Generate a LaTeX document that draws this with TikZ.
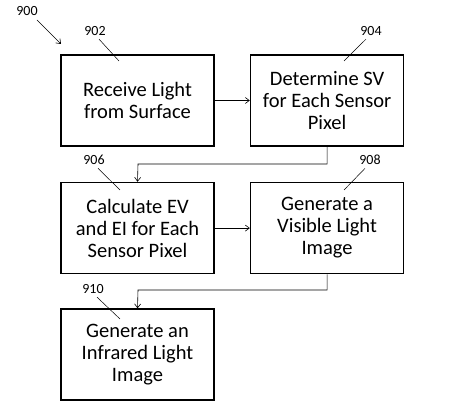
\documentclass[tikz,border=0pt]{standalone}
\usepackage{fontspec}
\setmainfont{Carlito}
\usetikzlibrary{positioning,arrows.meta}
\tikzset{
stepbox/.style={
	  draw, line width=1.6pt, rectangle, minimum width=153pt,
	    minimum height=91pt, align=center, font=\fontsize{20.5}{22}\selectfont},
flow/.style={draw, line width=0.6pt, -{Straight Barb[length=4pt,width=6pt]}},
refnum/.style={font=\fontsize{14}{16}\selectfont},
leader/.style={draw, line width=0.5pt}
}

\begin{document}
\begin{tikzpicture}[x=1pt, y=-1pt, node distance=35pt]
	\useasboundingbox (0,0) rectangle (451,419);
	\node[stepbox] (receive) at (137.5,100.5) {Receive Light\\from Surface};
	\node[stepbox, right=35pt of receive] (determine) {Determine SV\\for Each Sensor\\Pixel};
	\node[stepbox, below=35pt of receive] (calculate) {Calculate EV\\and EI for Each\\Sensor Pixel};
	\node[stepbox, right=35pt of calculate] (visible) {Generate a\\Visible Light\\Image};
	\node[stepbox, below=34pt of calculate] (infrared) {Generate an\\Infrared Light\\Image};
	% connectors
	\draw[flow] (receive) -- (determine);
	\draw[flow] (calculate) -- (visible);
	\draw[flow] (determine.south) |- (138,164) -- (calculate.north);
	\draw[flow] (visible.south) |- (138,290) -- (infrared.north);
	% reference numerals
	\node[refnum] (n900) at (27,11) {900};
	\coordinate (p900) at (61,44);
	\draw[line width=0.6pt, -{Straight Barb[length=4pt,width=6pt]}] (37,20) -- (p900);
	\node[refnum] (n902) at (95,31) {902};
	\draw[leader] (n902.south) ++(4,0) -- (119,61);
	\node[refnum] (n904) at (371,31) {904};
	\draw[leader] (n904.south) ++(-5,0) -- (344,61);
	\node[refnum] (n906) at (94,160) {906};
	\draw[leader] (n906.south) ++(4,0) -- (120,190);
	\node[refnum] (n908) at (370,160) {908};
	\draw[leader] (n908.south) ++(-5,0) -- (344,190);
	\node[refnum] (n910) at (93,289) {910};
	\draw[leader] (n910.south) ++(4,0) -- (120,319);
\end{tikzpicture}
\end{document}
